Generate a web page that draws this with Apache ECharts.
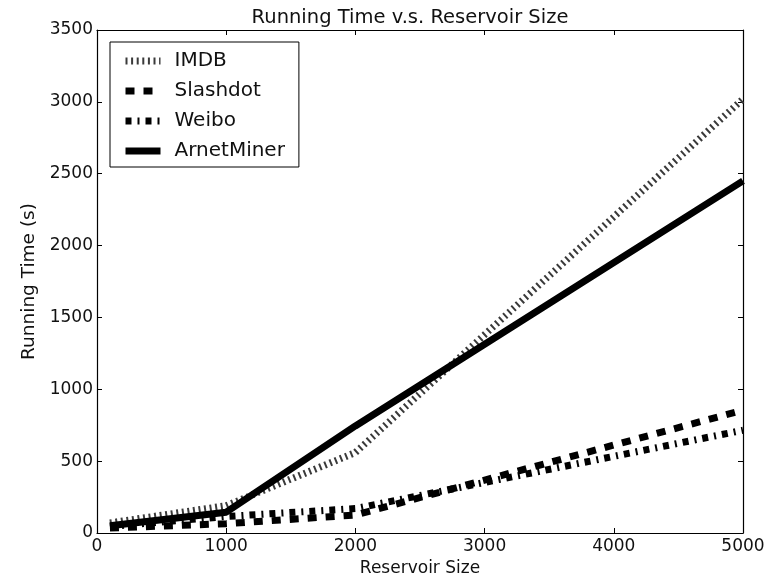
<!DOCTYPE html>
<html>
<head>
<meta charset="utf-8">
<script src="https://cdn.jsdelivr.net/npm/echarts@6/dist/echarts.min.js"></script>
<style>
  html, body { margin: 0; padding: 0; background: #fff; }
  #chart { width: 769px; height: 577px; }
</style>
</head>
<body>
<div id="chart"></div>
<script>
// Reservoir sizes measured and running times (seconds) per dataset
const reservoirSizes = [100, 1000, 2000, 5000];
const imdbTimes = [70, 190, 560, 3020];
const slashdotTimes = [35, 65, 125, 855];
const weiboTimes = [45, 115, 170, 715];
const arnetMinerTimes = [50, 145, 745, 2450];
const xTicks = [0, 1000, 2000, 3000, 4000, 5000];
const yTicks = [0, 500, 1000, 1500, 2000, 2500, 3000, 3500];

const FONT = 'DejaVu Sans';
const pairs = (ys) => reservoirSizes.map((x, i) => [x, ys[i]]);

const chart = echarts.init(document.getElementById('chart'), null, { renderer: 'canvas' });

const tickStyle = { show: true, inside: true, length: 5, lineStyle: { color: '#000', width: 1 } };
const lineAxis = { show: true, onZero: false, lineStyle: { color: '#000', width: 1.2 } };

chart.setOption({
  animation: false,
  backgroundColor: '#fff',
  title: {
    text: 'Running Time v.s. Reservoir Size',
    left: 405, top: 3, textAlign: 'center',
    textStyle: { fontFamily: FONT, fontSize: 19.5, fontWeight: 'normal', color: '#111' }
  },
  grid: { left: 97, right: 26, top: 30, bottom: 44, outerBoundsMode: 'none', containLabel: false },
  legend: {
    orient: 'vertical',
    left: 110, top: 42,
    padding: [9, 14, 6, 12],
    itemGap: 10,
    itemWidth: 35, itemHeight: 18,
    borderColor: '#000', borderWidth: 1,
    itemStyle: { opacity: 0 },
    lineStyle: { width: 7 },
    textStyle: { fontFamily: FONT, fontSize: 20, color: '#111', padding: [0, 0, 0, 9] },
    data: ['IMDB', 'Slashdot', 'Weibo', 'ArnetMiner']
  },
  xAxis: [{
    type: 'value', min: 0, max: 5000, interval: 1000,
    name: 'Reservoir Size', nameLocation: 'middle', nameGap: 17,
    nameTextStyle: { fontFamily: FONT, fontSize: 17, color: '#111' },
    axisLine: lineAxis, axisTick: tickStyle,
    axisLabel: { fontFamily: FONT, fontSize: 17, color: '#111', margin: 5,
      formatter: (v) => xTicks.includes(v) ? String(v) : '' },
    splitLine: { show: false }
  }, {
    type: 'value', min: 0, max: 5000, interval: 1000, position: 'top',
    axisLine: lineAxis, axisTick: tickStyle, axisLabel: { show: false }, splitLine: { show: false }
  }],
  yAxis: [{
    type: 'value', min: 0, max: 3500, interval: 500,
    name: 'Running Time (s)', nameLocation: 'middle', nameGap: 51,
    nameTextStyle: { fontFamily: FONT, fontSize: 18.5, color: '#111' },
    axisLine: lineAxis, axisTick: tickStyle,
    axisLabel: { fontFamily: FONT, fontSize: 17, color: '#111', margin: 4,
      formatter: (v) => yTicks.includes(v) ? String(v) : '' },
    splitLine: { show: false }
  }, {
    type: 'value', min: 0, max: 3500, interval: 500, position: 'right',
    axisLine: lineAxis, axisTick: tickStyle, axisLabel: { show: false }, splitLine: { show: false }
  }],
  series: [
    {
      name: 'IMDB', type: 'line', data: pairs(imdbTimes), symbol: 'none',
      lineStyle: { color: '#3a3a3a', width: 7, type: [2, 3.6] }, itemStyle: { color: '#3a3a3a' }
    },
    {
      name: 'Slashdot', type: 'line', data: pairs(slashdotTimes), symbol: 'none',
      lineStyle: { color: '#000', width: 7, type: [9, 9] }, itemStyle: { color: '#000' }
    },
    {
      name: 'Weibo', type: 'line', data: pairs(weiboTimes), symbol: 'none',
      lineStyle: { color: '#000', width: 7, type: [6, 6, 2, 6] }, itemStyle: { color: '#000' }
    },
    {
      name: 'ArnetMiner', type: 'line', data: pairs(arnetMinerTimes), symbol: 'none',
      lineStyle: { color: '#000', width: 7 }, itemStyle: { color: '#000' }
    }
  ]
});
</script>
</body>
</html>
